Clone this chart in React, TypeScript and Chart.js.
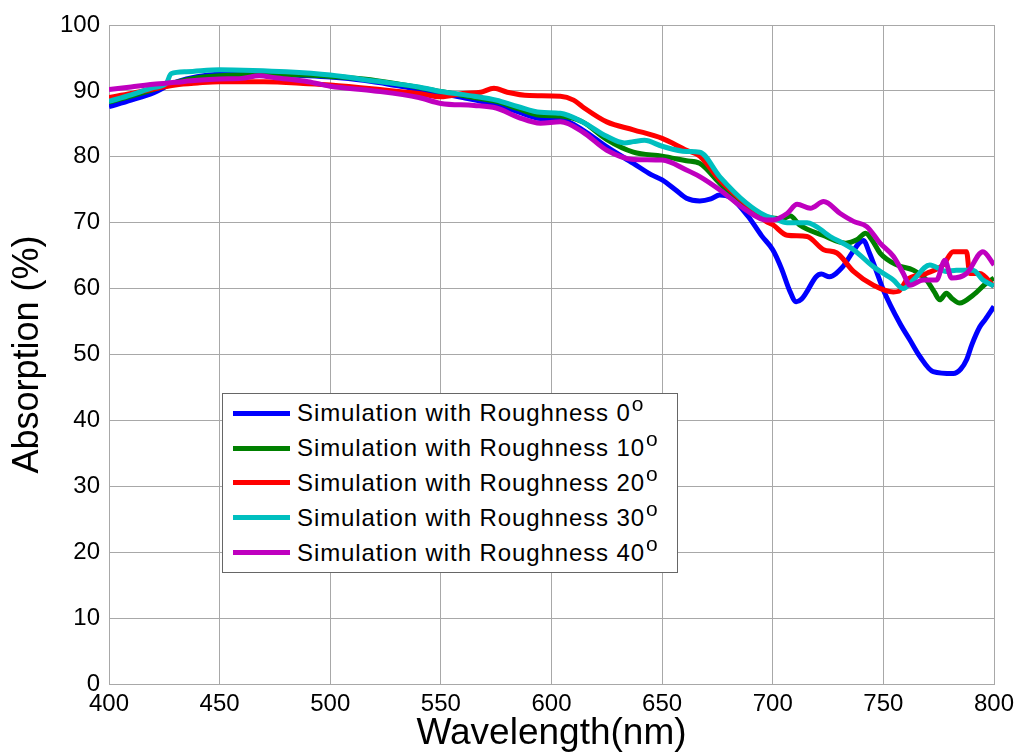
import React, { useEffect, useRef } from 'react';
import Chart from 'chart.js/auto';

// wavelength (nm) / absorption (%), one pair of arrays per roughness
const wl0 = [400, 410, 420, 428, 435, 445, 460, 475, 490, 500, 515, 530, 545, 560, 575, 585, 595, 604, 614, 625, 637, 645, 650, 656, 661, 667, 672, 676, 681, 689, 695, 700, 704, 707.5, 710.6, 713, 715, 719.6, 722, 725.6, 731.6, 736, 739, 741, 743.7, 747, 750, 757.5, 762, 766.5, 772.5, 781.6, 785, 787.6, 790, 793.6, 796, 800];
const abs0 = [87.6, 88.6, 89.7, 91.0, 91.8, 92.4, 92.6, 92.5, 92.3, 92.1, 91.6, 90.8, 89.9, 89.0, 87.9, 86.8, 85.8, 85.7, 84.1, 81.5, 79.0, 77.3, 76.5, 75.0, 73.7, 73.3, 73.6, 74.2, 73.8, 70.9, 68.0, 65.9, 63.0, 59.8, 58.0, 58.4, 59.3, 61.8, 62.2, 61.8, 63.3, 65.5, 66.9, 67.3, 65.4, 62.5, 59.8, 54.7, 52.2, 49.7, 47.4, 47.1, 47.8, 49.2, 51.5, 54.2, 55.3, 57.3];

const wl10 = [400, 410, 420, 430, 440, 450, 470, 490, 500, 515, 530, 550, 565, 575, 585, 595, 604, 614, 625, 637, 650, 661, 667, 676, 688, 697, 700, 704, 708, 712, 722.6, 733, 738, 742, 745, 748.5, 756, 763.5, 769.5, 773, 775.5, 778.5, 781, 784.5, 790.5, 796.5, 800];
const abs10 = [88.3, 89.2, 90.2, 91.3, 92.0, 92.3, 92.5, 92.4, 92.2, 91.8, 91.1, 89.9, 89.0, 88.4, 87.3, 86.3, 86.2, 85.3, 82.6, 80.7, 80.1, 79.4, 79.0, 76.0, 72.2, 70.7, 70.7, 70.6, 71.0, 69.7, 68.1, 66.9, 67.4, 68.4, 67.3, 65.4, 63.6, 62.8, 61.3, 59.5, 58.3, 59.3, 58.5, 57.8, 59.0, 60.8, 61.6];

const wl20 = [400, 410, 420, 430, 440, 450, 470, 490, 500, 520, 540, 550, 560, 568, 574, 580, 590, 604, 610, 614, 625, 637, 650, 661, 667, 676, 688, 697, 700, 706.5, 715.5, 723, 729, 736.5, 745.5, 754.5, 757, 760.5, 769.5, 777, 781.6, 787.6, 789, 793.6, 800];
const abs20 = [89.0, 89.6, 90.3, 90.9, 91.2, 91.4, 91.4, 91.1, 90.9, 90.3, 89.6, 89.1, 89.6, 89.8, 90.4, 89.8, 89.3, 89.2, 88.6, 87.6, 85.3, 84.1, 82.8, 81.0, 80.1, 76.5, 72.8, 70.2, 69.7, 68.1, 67.9, 65.9, 65.4, 62.6, 60.5, 59.5, 59.6, 61.3, 62.3, 63.6, 65.6, 65.6, 62.3, 62.3, 60.3];

const wl30 = [400, 410, 420, 426, 428, 435, 450, 465, 480, 500, 520, 540, 550, 565, 575, 585, 595, 604, 614, 625, 633, 637, 642, 650, 661, 667, 676, 688, 697, 700, 706.5, 715.5, 726, 736.5, 745.5, 754.5, 759, 763.5, 771, 778.5, 783, 790.5, 795, 800];
const abs30 = [88.4, 89.4, 90.5, 91.2, 92.6, 92.9, 93.2, 93.1, 92.9, 92.4, 91.5, 90.6, 89.9, 89.2, 88.6, 87.6, 86.75, 86.6, 85.3, 83.1, 82.1, 82.3, 82.5, 81.6, 80.8, 80.7, 77.0, 73.0, 71.0, 70.7, 70.0, 70.0, 67.9, 65.9, 63.3, 61.3, 60.0, 61.3, 63.6, 62.6, 62.8, 62.8, 61.3, 60.4];

const wl40 = [400, 410, 420, 430, 440, 450, 460, 468, 475, 490, 500, 520, 540, 550, 565, 575, 585, 595, 604, 614, 625, 637, 650, 661, 667, 676, 688, 697, 700, 706.5, 711, 717, 723, 730.5, 736.5, 742.5, 748.5, 754.5, 759, 762, 768, 774, 777.8, 780.8, 787.6, 795, 800];
const abs40 = [90.2, 90.6, 91.0, 91.3, 91.6, 91.8, 91.9, 92.3, 92.0, 91.4, 90.7, 90.0, 89.0, 88.1, 87.8, 87.4, 86.0, 85.1, 85.3, 83.8, 81.0, 79.6, 79.5, 78.0, 77.0, 75.0, 71.9, 70.4, 70.4, 71.4, 72.8, 72.2, 73.2, 71.4, 70.2, 69.4, 66.9, 64.9, 62.3, 60.5, 61.3, 61.3, 64.3, 61.6, 62.3, 65.6, 63.6];

const roughness = ['0', '10', '20', '30', '40'];
const seriesWl = [wl0, wl10, wl20, wl30, wl40];
const seriesAbs = [abs0, abs10, abs20, abs30, abs40];
const colors = ['#0000ff', '#008000', '#ff0000', '#00bfbf', '#bf00bf'];

const FONT = "'Liberation Sans', Arial, Helvetica, sans-serif";

const App: React.FC = () => {
  const canvasRef = useRef<HTMLCanvasElement>(null);
  const chartRef = useRef<Chart | null>(null);

  useEffect(() => {
    document.body.style.margin = '0';
    if (!canvasRef.current) return;
    if (chartRef.current) chartRef.current.destroy();

    const datasets = roughness.map((r, i) => ({
      label: `Simulation with Roughness ${r}°`,
      data: seriesWl[i].map((x, j) => ({ x, y: seriesAbs[i][j] })),
      borderColor: colors[i],
      backgroundColor: colors[i],
      borderWidth: 5,
      pointRadius: 0,
      cubicInterpolationMode: 'monotone' as const,
      fill: false,
      // later series sit on top, as in the original
      order: roughness.length - 1 - i,
    }));

    chartRef.current = new Chart(canvasRef.current, {
      type: 'line',
      data: { datasets },
      options: {
        animation: false,
        responsive: true,
        maintainAspectRatio: false,
        layout: { padding: { top: 25, right: 30, left: 0, bottom: 0 } },
        plugins: {
          legend: { display: false },
          tooltip: { enabled: false },
        },
        scales: {
          x: {
            type: 'linear',
            min: 400,
            max: 800,
            afterFit: (scale) => { scale.height = 72; },
            ticks: {
              stepSize: 50,
              color: '#000',
              font: { family: FONT, size: 24 },
              padding: 6,
              maxRotation: 0,
            },
            grid: { color: '#a8a8a8', lineWidth: 1, drawTicks: false },
            border: { color: '#a8a8a8' },
            title: {
              display: true,
              text: 'Wavelength(nm)',
              color: '#000',
              font: { family: FONT, size: 37 },
              padding: { top: 0, bottom: 0 },
            },
          },
          y: {
            min: 0,
            max: 100,
            afterFit: (scale) => { scale.width = 109; },
            ticks: {
              stepSize: 10,
              color: '#000',
              font: { family: FONT, size: 24 },
              padding: 9,
            },
            grid: { color: '#a8a8a8', lineWidth: 1, drawTicks: false },
            border: { color: '#a8a8a8' },
            title: {
              display: true,
              text: 'Absorption (%)',
              color: '#000',
              font: { family: FONT, size: 36 },
              padding: { top: 6, bottom: 0 },
            },
          },
        },
      },
    });

    return () => {
      if (chartRef.current) {
        chartRef.current.destroy();
        chartRef.current = null;
      }
    };
  }, []);

  return (
    <div style={{ position: 'relative', width: 1024, height: 756, background: '#fff' }}>
      <canvas ref={canvasRef}></canvas>
      <div
        style={{
          position: 'absolute',
          left: 222,
          top: 393,
          width: 456,
          height: 180,
          boxSizing: 'border-box',
          background: '#fff',
          border: '1px solid #666',
          paddingTop: 2,
          fontFamily: FONT,
          fontSize: 24,
          letterSpacing: '0.9px',
          color: '#000',
          pointerEvents: 'none',
        }}
      >
        {roughness.map((r, i) => (
          <div key={r} style={{ display: 'flex', alignItems: 'center', height: 34.8 }}>
            <span style={{ display: 'inline-block', width: 57, height: 5, marginLeft: 10, background: colors[i] }} />
            <span style={{ marginLeft: 7, whiteSpace: 'nowrap' }}>
              Simulation with Roughness {r}
              <span style={{ fontSize: 21, position: 'relative', top: -10, marginLeft: 1 }}>o</span>
            </span>
          </div>
        ))}
      </div>
    </div>
  );
};

export default App;
